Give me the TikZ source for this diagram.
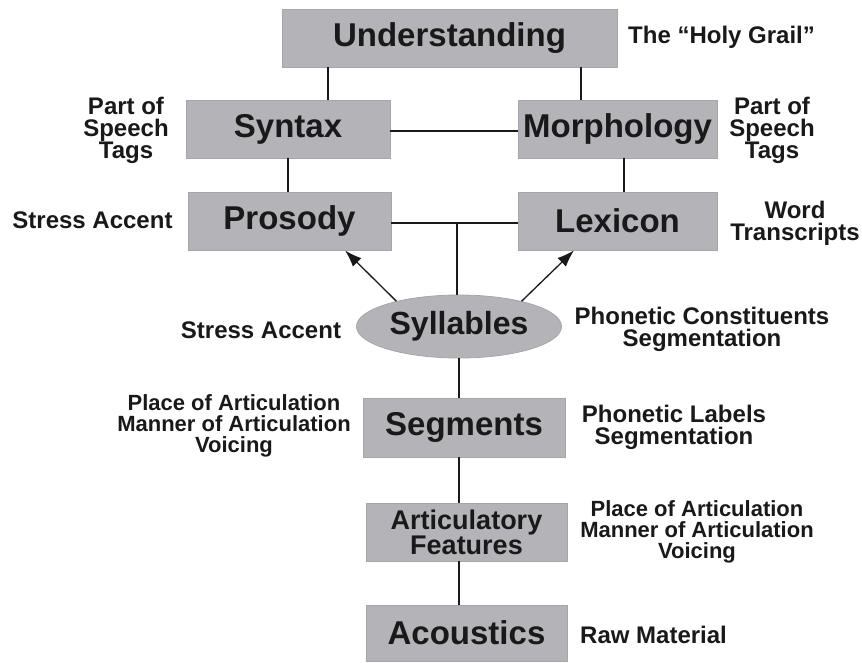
\documentclass[tikz,border=0pt]{standalone}
\usepackage{fontspec}
\setmainfont{Liberation Sans}
\usetikzlibrary{arrows.meta,shapes.geometric}
\definecolor{boxfill}{RGB}{180,180,184}
\definecolor{boxedge}{RGB}{165,165,170}
\definecolor{ink}{RGB}{25,25,25}
\tikzset{
  box/.style={draw=boxedge, line width=0.8pt, fill=boxfill, inner sep=0pt, minimum height=58pt,
              text=ink, font=\bfseries\fontsize{33}{36}\selectfont},
  oval/.style={ellipse, draw=boxedge, line width=0.8pt, fill=boxfill, inner sep=0pt,
               minimum width=205pt, minimum height=63pt, text=ink, font=\bfseries\fontsize{32}{36}\selectfont},
  lab/.style={text=ink, align=center, inner sep=0pt, font=\bfseries\fontsize{24}{22}\selectfont},
  labsm/.style={lab, font=\bfseries\fontsize{22}{21}\selectfont},
  conn/.style={draw=ink, line width=1.3pt},
  arr/.style={draw=ink, line width=1.3pt, -{Latex[length=17pt,width=12pt]}}
}
\begin{document}
\begin{tikzpicture}[x=1pt,y=-1pt]
\useasboundingbox (0,0) rectangle (862,662);
% boxes
\node[box, minimum width=335pt] (und) at (449.5,38) {Understanding};
\node[box, minimum width=204pt] (syn) at (288,129) {Syntax};
\node[box, minimum width=199pt] (mor) at (617.5,129) {Morphology};
\node[box, minimum width=203pt] (pro) at (289.5,221) {Prosody};
\node[box, minimum width=199pt] (lex) at (617.5,221) {Lexicon};
\node[oval] (syl) at (459,326.5) {Syllables};
\node[box, minimum width=202pt, minimum height=59pt] (seg) at (464,427.5) {Segments};
\node[box, minimum width=201pt, align=center, font=\bfseries\fontsize{27}{25}\selectfont] (art) at (466.5,532) {Articulatory\\Features};
\node[box, minimum width=201pt, minimum height=56pt] (aco) at (466.5,633) {Acoustics};
% labels
\node[lab, anchor=base west] (holy) at (628,43) {The “Holy Grail”};
\node[lab] (posl) at (126,130) {Part of\\Speech\\Tags};
\node[lab] (posr) at (772,130) {Part of\\Speech\\Tags};
\node[lab] (str1) at (92.5,220) {Stress Accent};
\node[lab] (word) at (795,223) {Word\\Transcripts};
\node[lab] (str2) at (261,330) {Stress Accent};
\node[lab] (phc) at (702,329) {Phonetic Constituents\\Segmentation};
\node[labsm] (segl) at (234,426) {Place of Articulation\\Manner of Articulation\\Voicing};
\node[lab] (segr) at (674,427) {Phonetic Labels\\Segmentation};
\node[labsm] (artr) at (697,532) {Place of Articulation\\Manner of Articulation\\Voicing};
\node[lab, anchor=west] (raw) at (580,635) {Raw Material};
% connectors
\draw[conn] ([xshift=40pt]syn.north) -- ([xshift=40pt]syn.north |- und.south);
\draw[conn] ([xshift=-36.5pt]mor.north) -- ([xshift=-36.5pt]mor.north |- und.south);
\draw[conn] ([yshift=-2pt]syn.east) -- ([yshift=-2pt]mor.west);
\draw[conn] (syn.south) -- (syn.south |- pro.north);
\draw[conn] ([xshift=6.5pt]mor.south) -- ([xshift=6.5pt]mor.south |- lex.north);
\draw[conn] ([yshift=-2pt]pro.east) -- ([yshift=-2pt]lex.west);
\draw[conn] ([xshift=-2pt]syl.north) -- ([xshift=-2pt,yshift=-2pt]syl.north |- pro.east);
\draw[arr] (syl.158) -- ([xshift=55.5pt]pro.south);
\draw[arr] (syl.22) -- ([xshift=-43.5pt]lex.south);
\draw[conn] (syl.south) -- (syl.south |- seg.north);
\draw[conn] (seg.south -| syl.south) -- (art.north -| syl.south);
\draw[conn] (art.south -| syl.south) -- (aco.north -| syl.south);
\end{tikzpicture}
\end{document}
